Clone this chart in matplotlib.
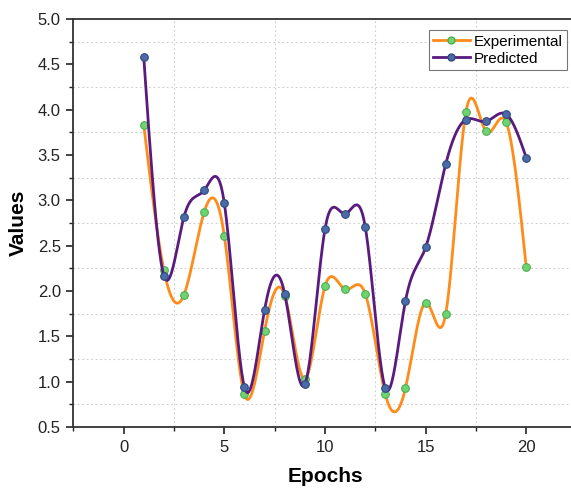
import numpy as np
import matplotlib
matplotlib.use("Agg")
import matplotlib.pyplot as plt
from matplotlib.ticker import MultipleLocator, FormatStrFormatter

plt.rcParams['font.family'] = ['Liberation Sans', 'DejaVu Sans']

epochs = list(range(1, 21))
experimental = [3.83, 2.23, 1.96, 2.87, 2.61, 0.86, 1.56, 1.95, 1.03, 2.05,
                2.02, 1.97, 0.86, 0.93, 1.87, 1.75, 3.97, 3.76, 3.86, 2.26]
predicted = [4.58, 2.17, 2.82, 3.11, 2.97, 0.94, 1.79, 1.97, 0.97, 2.68,
             2.85, 2.71, 0.93, 1.89, 2.48, 3.40, 3.89, 3.87, 3.95, 3.47]


def natural_spline(x, y, xs):
    # natural cubic spline, second derivative zero at both ends
    x = np.asarray(x, float)
    y = np.asarray(y, float)
    n = len(x)
    h = np.diff(x)
    A = np.zeros((n, n))
    b = np.zeros(n)
    A[0, 0] = A[-1, -1] = 1
    for i in range(1, n - 1):
        A[i, i - 1] = h[i - 1]
        A[i, i] = 2 * (h[i - 1] + h[i])
        A[i, i + 1] = h[i]
        b[i] = 6 * ((y[i + 1] - y[i]) / h[i] - (y[i] - y[i - 1]) / h[i - 1])
    M = np.linalg.solve(A, b)
    idx = np.clip(np.searchsorted(x, xs) - 1, 0, n - 2)
    x0, x1 = x[idx], x[idx + 1]
    hh = x1 - x0
    t0, t1 = x1 - xs, xs - x0
    return (M[idx] * t0**3 / (6 * hh) + M[idx + 1] * t1**3 / (6 * hh)
            + (y[idx] / hh - M[idx] * hh / 6) * t0
            + (y[idx + 1] / hh - M[idx + 1] * hh / 6) * t1)


xs = np.linspace(1, 20, 800)

fig = plt.figure(figsize=(5.71, 4.91), dpi=100)
ax = fig.add_axes([73.3 / 571, 64 / 491, 503.3 / 571, 408 / 491])

ax.plot(xs, natural_spline(epochs, experimental, xs), color='#FF8C1A', lw=2, zorder=3)
ax.plot(epochs, experimental, ls='none', marker='o', ms=5.5, mfc='#6FD36F',
        mec='#4CAF50', mew=0.8, zorder=4)
ax.plot(xs, natural_spline(epochs, predicted, xs), color='#5A1A7E', lw=2, zorder=5)
ax.plot(epochs, predicted, ls='none', marker='o', ms=5.5, mfc='#4A6AA8',
        mec='#2F4A80', mew=0.8, zorder=6)

# legend handles
ax.plot([], [], color='#FF8C1A', lw=2, marker='o', ms=5, mfc='#6FD36F',
        mec='#4CAF50', label='Experimental')
ax.plot([], [], color='#5A1A7E', lw=2, marker='o', ms=5, mfc='#4A6AA8',
        mec='#2F4A80', label='Predicted')

ax.set_xlim(-2.5, 22.5)
ax.set_ylim(0.5, 5.0)
ax.xaxis.set_major_locator(MultipleLocator(5))
ax.xaxis.set_minor_locator(MultipleLocator(2.5))
ax.yaxis.set_major_locator(MultipleLocator(0.5))
ax.yaxis.set_minor_locator(MultipleLocator(0.25))
ax.yaxis.set_major_formatter(FormatStrFormatter('%.1f'))

ax.grid(which='minor', ls=(0, (1.5, 2.5)), color='#CCCCCC', lw=0.8)
ax.grid(which='major', visible=False)
ax.tick_params(which='major', direction='out', length=5, width=1.2,
               labelsize=12, colors='#222222', pad=4)
ax.tick_params(which='minor', direction='out', length=3, width=1.0, colors='#222222')
for side in ['left', 'bottom', 'top', 'right']:
    ax.spines[side].set_linewidth(1.3)
    ax.spines[side].set_color('#333333')

ax.set_xlabel('Epochs', fontsize=15, fontweight='bold', labelpad=9)
ax.set_ylabel('Values', fontsize=15, fontweight='bold', labelpad=7)

leg = ax.legend(loc='upper right', bbox_to_anchor=(0.981, 0.973), fontsize=11,
                frameon=True, fancybox=False, edgecolor='#555555',
                borderpad=0.3, handlelength=2.4, labelspacing=0.2,
                handletextpad=0.25, borderaxespad=0)
leg.get_frame().set_linewidth(0.8)

fig.savefig('out.png', dpi=100)
